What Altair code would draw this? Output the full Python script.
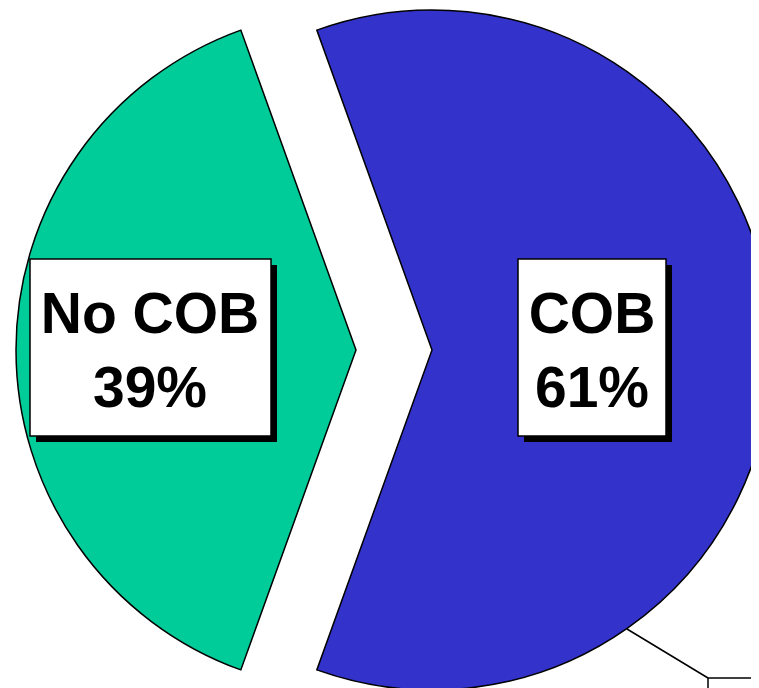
import math
import altair as alt
import pandas as pd

categories = ["COB", "No COB"]
values = [61, 39]
colors = ["#3333CC", "#00CC99"]
order = [0, 1]

df = pd.DataFrame({"category": categories, "value": values, "order": order})

R = 340
start = math.radians(340.2)
theta_scale = alt.Scale(domain=[0, 100], range=[start, start + 2 * math.pi])
color = alt.Color("category:N", scale=alt.Scale(domain=categories, range=colors), legend=None)

base = alt.Chart(df).transform_window(
    end="sum(value)", sort=[alt.SortField("order")], frame=[None, 0]
).transform_calculate(
    start="datum.end - datum.value",
    label="datum.category + '\\n' + datum.value + '%'",
)


def slice_layer(cat, cx, cy):
    return base.transform_filter(alt.datum.category == cat).mark_arc(
        outerRadius=R, stroke="black", strokeWidth=1.5, x=cx, y=cy
    ).encode(
        theta=alt.Theta("start:Q", scale=theta_scale),
        theta2="end:Q",
        color=color,
    )


def box_layer(cat, x0, x1, y0, y1, tx, ty):
    shadow = base.transform_filter(alt.datum.category == cat).mark_rect(
        fill="black"
    ).encode(x=alt.value(x0 + 6), x2=alt.value(x1 + 6), y=alt.value(y0 + 6), y2=alt.value(y1 + 6))
    box = base.transform_filter(alt.datum.category == cat).mark_rect(
        fill="white", stroke="black", strokeWidth=1.5
    ).encode(x=alt.value(x0), x2=alt.value(x1), y=alt.value(y0), y2=alt.value(y1))
    txt = base.transform_filter(alt.datum.category == cat).mark_text(
        font="Liberation Sans", fontWeight="bold", fontSize=57, align="center",
        baseline="alphabetic", lineBreak="\n", lineHeight=74, color="black", x=tx, y=ty
    ).encode(text="label:N")
    return [shadow, box, txt]


leader = base.transform_filter(alt.datum.category == "COB").mark_rule(
    stroke="black", strokeWidth=1.5
).encode(x=alt.value(619), y=alt.value(621), x2=alt.value(700), y2=alt.value(670))
outbox = base.transform_filter(alt.datum.category == "COB").mark_rect(
    fill="white", stroke="black", strokeWidth=1.5
).encode(x=alt.value(700), x2=alt.value(820), y=alt.value(670), y2=alt.value(760))

layers = [
    slice_layer("No COB", 348, 342),
    slice_layer("COB", 424, 342),
    leader,
    outbox,
]
layers += box_layer("No COB", 22, 263, 251, 428, 142, 325)
layers += box_layer("COB", 510, 658, 251, 428, 584, 325)

chart = alt.layer(*layers).properties(
    width=743, height=680, autosize=alt.AutoSizeParams(type="none"), padding=0,
    background="white",
).configure_view(stroke=None)

chart.save("out.html", embed_options={"renderer": "svg", "actions": False})
